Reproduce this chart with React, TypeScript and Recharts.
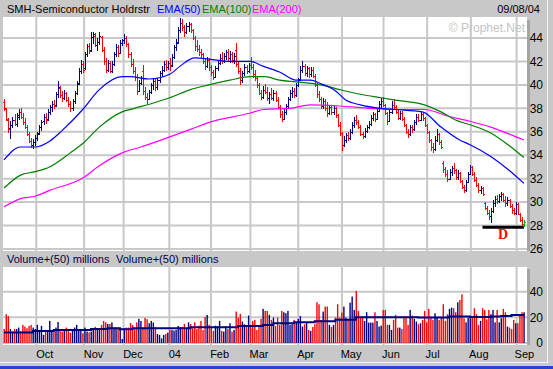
import React from 'react';
import { ComposedChart, Bar, Line, XAxis, YAxis, CartesianGrid, ReferenceLine } from 'recharts';

// daily bars [open, high, low, close], one array per month
const sep03 = [
  [38.5, 38.8, 37.8, 38.0], [37.9, 38.0, 36.9, 37.1], [37.0, 37.2, 35.9, 36.2], [36.3, 36.9, 35.4, 36.6],
  [36.6, 37.3, 36.3, 37.0], [37.0, 37.5, 36.5, 36.7], [36.7, 37.6, 36.4, 37.4], [37.3, 37.9, 37.0, 37.7],
  [37.7, 38.0, 37.1, 37.3], [37.3, 37.6, 36.6, 36.8], [36.8, 37.2, 36.2, 36.4], [36.4, 36.6, 35.6, 35.8],
  [35.8, 36.0, 35.0, 35.2], [35.2, 35.5, 34.6, 34.9], [34.9, 35.4, 34.5, 35.1], [35.1, 35.7, 34.8, 35.5],
];
const oct03 = [
  [35.5, 36.0, 35.2, 35.8], [35.9, 36.6, 35.7, 36.4], [36.4, 37.0, 36.1, 36.8], [36.9, 37.5, 36.6, 37.3],
  [37.3, 37.6, 36.7, 37.0], [37.1, 37.9, 36.9, 37.7], [37.7, 38.3, 37.4, 38.1], [38.1, 38.6, 37.7, 38.4],
  [38.4, 38.7, 37.9, 38.2], [38.3, 39.4, 38.1, 39.2], [39.2, 40.3, 38.9, 39.8], [39.7, 39.9, 38.9, 39.1],
  [39.1, 39.5, 38.5, 38.9], [38.9, 39.6, 38.7, 39.3], [39.3, 39.4, 38.5, 38.7], [38.7, 39.0, 38.1, 38.4],
  [38.4, 38.6, 37.7, 38.0], [38.0, 38.8, 37.8, 38.6], [38.6, 39.5, 38.4, 39.3], [39.3, 40.3, 39.1, 40.1],
  [40.2, 41.4, 40.0, 41.2], [41.2, 42.1, 40.9, 41.8], [41.8, 42.0, 41.0, 41.3],
];
const nov03 = [
  [41.4, 42.8, 41.3, 42.6], [42.6, 43.5, 42.4, 43.3], [43.3, 43.6, 42.6, 42.9], [43.0, 44.5, 42.8, 44.1],
  [44.1, 44.5, 43.5, 44.3], [44.2, 44.4, 43.2, 43.4], [43.4, 44.0, 42.9, 43.7], [43.7, 44.5, 43.4, 44.2],
  [44.1, 44.2, 42.8, 43.0], [43.0, 43.2, 41.7, 42.0], [42.0, 42.3, 41.0, 41.3], [41.3, 42.1, 41.1, 41.9],
  [41.9, 42.0, 41.0, 41.2], [41.2, 42.0, 41.0, 41.8], [41.8, 42.8, 41.6, 42.6], [42.6, 43.5, 42.4, 43.2],
  [43.2, 43.4, 42.4, 42.7], [42.7, 43.8, 42.6, 43.6], [43.6, 43.9, 43.3, 43.8],
];
const dec03 = [
  [43.8, 44.3, 43.5, 44.0], [44.0, 44.2, 43.2, 43.5], [43.5, 43.6, 42.3, 42.6], [42.6, 42.8, 41.5, 41.8],
  [41.8, 42.2, 40.9, 41.2], [41.2, 41.5, 40.3, 40.7], [40.7, 40.9, 39.1, 39.5], [39.5, 40.4, 39.4, 40.2],
  [40.2, 40.8, 40.0, 40.6], [41.2, 41.7, 39.1, 39.5], [39.5, 39.8, 38.7, 39.0], [39.0, 39.3, 38.4, 38.8],
  [38.8, 39.6, 38.7, 39.4], [39.4, 40.2, 39.2, 40.0], [40.0, 40.6, 39.6, 40.3], [40.3, 40.5, 39.5, 39.8],
  [39.8, 40.6, 39.6, 40.4], [40.4, 41.2, 40.2, 41.0], [41.0, 41.6, 40.7, 41.3], [41.3, 42.0, 41.1, 41.8],
  [41.8, 42.1, 41.2, 41.5], [41.5, 42.0, 41.3, 41.9],
];
const jan04 = [
  [41.9, 42.3, 41.2, 41.6], [41.7, 42.6, 41.5, 42.4], [42.4, 43.4, 42.2, 43.2], [43.2, 43.9, 42.9, 43.6],
  [43.7, 44.9, 43.5, 44.7], [44.7, 45.7, 44.4, 45.3], [45.3, 45.6, 44.6, 44.9], [44.9, 45.1, 44.1, 44.5],
  [44.5, 45.3, 44.3, 45.0], [45.0, 45.4, 44.5, 45.2], [45.2, 45.3, 44.4, 44.7], [44.7, 44.8, 43.8, 44.0],
  [44.0, 44.2, 42.9, 43.3], [43.3, 43.8, 42.8, 43.1], [43.1, 43.4, 42.5, 42.8], [42.8, 43.1, 42.2, 42.6],
  [42.6, 42.7, 41.8, 42.0], [42.0, 42.3, 41.3, 41.6], [41.6, 42.4, 41.4, 42.1], [42.1, 42.3, 41.2, 41.5],
];
const feb04 = [
  [41.5, 41.7, 40.8, 41.1], [41.1, 41.3, 40.4, 40.7], [40.7, 41.6, 40.6, 41.4], [41.4, 42.1, 41.2, 41.9],
  [41.9, 42.6, 41.7, 42.3], [42.3, 42.8, 41.8, 42.0], [42.0, 42.7, 41.9, 42.5], [42.5, 43.0, 42.1, 42.8],
  [42.8, 43.1, 42.0, 42.3], [42.3, 42.9, 41.9, 42.6], [42.6, 42.8, 41.9, 42.1], [42.1, 42.7, 41.8, 42.5],
  [43.0, 43.6, 41.5, 41.8], [41.8, 42.0, 40.9, 41.2], [41.2, 41.4, 40.0, 40.4], [40.4, 41.2, 40.2, 41.0],
  [41.0, 41.8, 40.8, 41.5], [41.5, 41.7, 40.9, 41.2], [41.2, 41.9, 41.0, 41.7],
];
const mar04 = [
  [41.7, 42.4, 41.3, 41.5], [41.5, 41.8, 40.6, 40.9], [40.9, 41.3, 40.3, 40.6], [40.6, 40.8, 39.7, 40.0],
  [40.0, 40.2, 39.1, 39.3], [39.3, 39.6, 38.7, 39.0], [39.0, 39.9, 38.8, 39.6], [39.6, 40.1, 39.2, 39.4],
  [39.4, 39.8, 38.6, 38.9], [38.9, 39.4, 38.4, 39.2], [39.2, 39.7, 38.7, 38.9], [38.9, 39.6, 38.6, 39.3],
  [39.3, 39.5, 38.5, 38.7], [38.7, 39.0, 37.9, 38.1], [38.1, 38.3, 37.2, 37.5], [37.5, 37.8, 36.8, 37.1],
  [37.1, 37.9, 37.0, 37.7], [37.7, 38.4, 37.4, 38.2], [38.2, 39.0, 38.0, 38.8], [38.8, 39.6, 38.6, 39.3],
  [39.3, 39.8, 38.9, 39.5], [39.5, 39.7, 38.9, 39.1], [39.1, 40.2, 39.0, 40.0],
];
const apr04 = [
  [40.0, 40.6, 39.8, 40.4], [40.5, 41.6, 40.3, 41.3], [41.3, 42.0, 41.0, 41.6], [41.6, 41.8, 40.8, 41.0],
  [41.0, 41.6, 40.7, 41.4], [41.4, 41.5, 40.6, 40.9], [40.9, 41.5, 40.7, 41.3], [41.3, 41.5, 40.6, 40.8],
  [40.8, 40.9, 39.8, 40.0], [40.0, 40.2, 38.9, 39.2], [39.2, 39.5, 38.5, 38.8], [38.8, 39.0, 37.9, 38.2],
  [38.2, 38.9, 37.9, 38.6], [38.6, 38.8, 37.8, 38.0], [38.0, 38.5, 37.3, 37.6], [37.6, 38.3, 37.4, 38.1],
  [38.1, 38.3, 37.4, 37.7], [37.7, 38.2, 37.4, 38.0], [38.0, 38.1, 37.2, 37.4], [37.4, 37.5, 36.4, 36.6],
  [36.6, 36.8, 35.6, 35.9],
];
const may04 = [
  [35.9, 36.0, 34.4, 34.9], [34.9, 35.6, 34.7, 35.3], [35.3, 35.9, 35.0, 35.7], [35.7, 36.0, 35.2, 35.5],
  [35.5, 36.2, 35.3, 36.0], [36.0, 36.8, 35.8, 36.6], [36.6, 37.3, 36.3, 37.0], [37.0, 37.4, 36.6, 36.8],
  [36.8, 37.0, 36.2, 36.4], [36.4, 36.6, 35.6, 35.8], [35.8, 36.0, 35.4, 35.6], [35.6, 36.3, 35.5, 36.1],
  [36.1, 36.6, 35.9, 36.4], [36.4, 36.9, 36.2, 36.7], [36.7, 37.4, 36.5, 37.2], [37.2, 37.7, 36.9, 37.5],
  [37.5, 37.6, 36.8, 37.1], [37.1, 38.0, 37.0, 37.8], [37.8, 38.6, 37.7, 38.4], [38.4, 38.9, 38.0, 38.6],
];
const jun04 = [
  [38.6, 39.0, 38.1, 38.3], [38.3, 38.4, 37.4, 37.6], [37.6, 37.7, 36.6, 36.9], [36.9, 37.9, 36.8, 37.7],
  [37.7, 38.6, 37.5, 38.3], [38.3, 38.8, 37.9, 38.1], [38.1, 38.3, 37.5, 37.7], [37.7, 37.9, 37.0, 37.2],
  [37.2, 37.8, 37.0, 37.6], [37.6, 37.8, 36.9, 37.1], [37.1, 37.3, 36.4, 36.6], [36.6, 36.7, 35.8, 36.0],
  [36.0, 36.2, 35.5, 35.8], [35.8, 36.6, 35.6, 36.4], [36.4, 36.6, 35.9, 36.2], [36.2, 37.0, 36.1, 36.8],
  [36.8, 37.5, 36.6, 37.3], [37.3, 37.5, 36.8, 37.0], [37.0, 37.7, 36.9, 37.5], [37.5, 37.6, 36.9, 37.2],
  [37.2, 37.3, 36.4, 36.6],
];
const jul04 = [
  [36.6, 36.7, 35.8, 36.0], [36.0, 36.1, 35.0, 35.3], [35.3, 35.4, 34.4, 34.7], [34.7, 35.0, 34.2, 34.5],
  [34.5, 35.6, 34.4, 35.3], [35.3, 36.2, 35.1, 35.8], [35.8, 35.9, 34.9, 35.1], [35.1, 35.3, 34.5, 34.7],
  [33.3, 33.5, 32.5, 32.8], [32.8, 33.0, 32.1, 32.4], [32.4, 32.7, 31.7, 32.0], [32.0, 32.8, 31.9, 32.6],
  [32.6, 33.1, 32.2, 32.9], [32.9, 33.3, 32.4, 32.7], [32.7, 32.8, 31.9, 32.1], [32.1, 32.7, 31.9, 32.5],
  [32.5, 32.6, 31.6, 31.8], [31.8, 31.9, 31.1, 31.3], [31.3, 31.5, 30.8, 31.0], [31.0, 31.9, 30.9, 31.7],
  [31.7, 32.6, 31.6, 32.4],
];
const aug04 = [
  [32.4, 33.2, 32.3, 33.0], [33.0, 33.1, 32.2, 32.4], [32.4, 32.6, 31.7, 31.9], [31.9, 32.1, 31.3, 31.5],
  [31.5, 31.6, 30.8, 31.0], [31.0, 31.4, 30.7, 31.2], [31.2, 31.3, 30.5, 30.7], [29.9, 30.0, 29.3, 29.5],
  [29.5, 29.7, 28.9, 29.1], [29.1, 29.3, 28.5, 28.8], [28.8, 29.5, 28.2, 29.2], [29.2, 30.2, 29.1, 29.9],
  [29.9, 30.5, 29.6, 30.3], [30.3, 30.6, 29.8, 30.1], [30.1, 30.7, 29.9, 30.5], [30.5, 30.9, 30.1, 30.7],
  [30.7, 30.8, 30.0, 30.2], [30.2, 30.5, 29.6, 29.9], [29.9, 30.4, 29.7, 30.2], [30.2, 30.3, 29.5, 29.7],
  [29.7, 29.8, 29.0, 29.3], [29.3, 29.5, 28.9, 29.1],
];
const sep04 = [
  [29.1, 30.0, 28.9, 29.8], [29.8, 29.9, 28.9, 29.0], [29.0, 29.1, 28.3, 28.5], [28.5, 28.7, 27.9, 28.1],
  [28.1, 28.5, 27.9, 28.3],
];

// volume in millions, same months
const volSep03 = [10.9, 22.4, 21.1, 10.9, 8.9, 10.9, 10.9, 12, 8.9, 14.1, 12.8, 11.5, 13.3, 14.1, 12, 10.9];
const volOct03 = [14.1, 10.2, 13.3, 6.3, 10.2, 9.4, 17.2, 8.9, 8.9, 12, 16.4, 10.2, 8.9, 10.9, 12, 10.9, 8.1, 10.2, 12, 14.1, 9.4, 10.9, 7.6];
const volNov03 = [12, 8.9, 8.3, 8.9, 11.5, 12.5, 10.9, 10.9, 14.1, 17.2, 16.1, 14.8, 14.8, 16.1, 12, 12, 12, 10.9, 3.1];
const volDec03 = [11.5, 12, 12, 15.6, 14.1, 10.9, 16.1, 18.8, 17.2, 12, 19.5, 18.5, 15.4, 17.2, 15.9, 12.5, 7, 6.3, 3.6, 6.3, 7, 8.1];
const volJan04 = [10.2, 10.2, 9.6, 10.2, 13.3, 12.2, 12.5, 14.8, 10.9, 16.1, 14.8, 11.5, 16.1, 10.9, 13.5, 17.2, 10.2, 20.3, 21.9, 14.1];
const volFeb04 = [12.5, 9.4, 13.5, 12.8, 17.2, 9.4, 8.9, 13, 10.9, 15.4, 8.9, 10.2, 24.5, 19.8, 22.7, 16.7, 14.6, 12.8, 21.4];
const volMar04 = [12.8, 17.2, 18, 10.2, 12.8, 18.8, 26.6, 25, 25, 21.9, 18, 19.8, 13.3, 19.8, 14.1, 25, 24, 23.2, 25, 14.1, 14.6, 18, 16.1];
const volApr04 = [18.8, 21.1, 12.8, 14.6, 16.1, 10.2, 9.4, 12.5, 14.6, 31.8, 30.2, 18, 24.5, 28.4, 28.4, 14.1, 12.5, 14.1, 19.8, 30.2, 19.8];
const volMay04 = [23.7, 28.4, 19.8, 18, 31.5, 36.2, 25.8, 40.6, 25, 19.8, 20.6, 17.2, 24, 15.9, 15.9, 15.9, 24, 17.2, 12.8, 13.5];
const volJun04 = [25.8, 25.8, 14.1, 14.1, 10.2, 18, 21.9, 12, 12, 10.9, 20, 20.6, 14.1, 25.8, 21.4, 18.8, 16.7, 14.6, 15.4, 18, 25];
const volJul04 = [16.1, 26.6, 20.6, 18, 23.2, 19.8, 18, 19.8, 30.2, 17.2, 22.4, 26.6, 27.6, 27.1, 24, 31.8, 33.6, 38, 19.3, 16.1, 19.8];
const volAug04 = [19.3, 20.6, 27.1, 22.4, 14.1, 17.2, 27.1, 25.8, 18.5, 25.8, 22.4, 25.8, 16.1, 25.8, 16.1, 19.3, 26.6, 24, 12.8, 12, 10.9, 18];
const volSep04 = [15.4, 15.4, 22.4, 24, 24];

// moving averages: [bar index, value]
const ema50 = [
  [0, 33.6], [8, 34.7], [15, 34.7], [22, 35.2], [28, 36.1], [38, 37.9], [46, 39.6], [57, 40.7], [61, 40.7],
  [70, 40.5], [80, 40.9], [85, 41.6], [92, 42.3], [99, 42.2], [109, 42.0], [119, 42.0], [125, 41.6],
  [133, 41.1], [141, 40.4], [148, 40.4], [153, 40.1], [160, 39.5], [165, 38.7], [172, 38.3], [182, 38.0],
  [189, 37.9], [202, 37.7], [211, 36.4], [220, 35.3], [225, 34.9], [235, 33.9], [244, 32.7], [251, 31.6],
];
const ema100 = [
  [0, 31.2], [8, 32.3], [15, 32.6], [22, 33.0], [32, 34.2], [38, 35.0], [46, 36.4], [57, 37.7], [63, 38.0],
  [73, 38.5], [80, 38.9], [90, 39.6], [99, 40.0], [109, 40.4], [119, 40.7], [126, 40.7], [133, 40.4],
  [141, 40.25], [153, 40.0], [162, 39.6], [172, 39.2], [182, 38.9], [189, 38.7], [203, 38.3], [211, 37.7],
  [218, 37.0], [225, 36.6], [235, 35.9], [244, 34.8], [251, 33.8],
];
const ema200 = [
  [0, 29.6], [8, 30.3], [15, 30.5], [22, 31.0], [38, 32.05], [46, 33.1], [57, 34.2], [66, 34.7], [79, 35.5],
  [90, 36.2], [99, 36.8], [119, 37.6], [125, 37.9], [138, 38.0], [148, 38.3], [162, 38.2], [177, 38.0],
  [189, 37.9], [203, 37.9], [215, 37.3], [225, 36.9], [235, 36.4], [244, 35.8], [251, 35.3],
];
const volAvg50 = [
  [0, 8.1], [14, 9.4], [24, 10.2], [42, 10.9], [50, 11.5], [56, 10.7], [62, 11.5], [80, 11.5], [90, 12.2],
  [110, 12.2], [113, 13.3], [120, 13.3], [125, 14.1], [130, 15.4], [140, 16.1], [150, 16.9], [160, 18.2],
  [170, 20.0], [180, 20.0], [200, 19.8], [210, 19.8], [215, 20.6], [225, 20.2], [235, 20.6], [240, 21.1],
  [245, 21.9], [251, 21.4],
];

const monthLabels = ['Oct', 'Nov', 'Dec', '04', 'Feb', 'Mar', 'Apr', 'May', 'Jun', 'Jul', 'Aug', 'Sep'];
const priceTicks = [26, 28, 30, 32, 34, 36, 38, 40, 42, 44];
const volumeTicks = [0, 20, 40];
const supportLevel = 27.85;
const supportFrom = 231;

const priceMonths = [sep03, oct03, nov03, dec03, jan04, feb04, mar04, apr04, may04, jun04, jul04, aug04, sep04];
const volumeMonths = [volSep03, volOct03, volNov03, volDec03, volJan04, volFeb04, volMar04, volApr04, volMay04, volJun04, volJul04, volAug04, volSep04];
const bars = priceMonths.flat();
const volumes = volumeMonths.flat();

const monthStarts: number[] = [];
let counted = 0;
priceMonths.forEach((m, k) => {
  if (k > 0) monthStarts.push(counted);
  counted += m.length;
});

const UP = '#000080';
const DOWN = '#ff0000';
const LAST = '#00b000';

const data: any[] = bars.map(([o, h, l, c], i) => {
  const prev = i > 0 ? bars[i - 1][3] : o;
  const down = c < prev;
  return {
    i, o, h, l, c,
    range: [l, h],
    v: volumes[i],
    color: i === bars.length - 1 ? LAST : down ? DOWN : UP,
    vcolor: down ? DOWN : UP,
  };
});
data.push({ i: bars.length }); // empty slot at the right edge
const put = (pts: number[][], key: string) => pts.forEach(([i, v]) => { data[i][key] = v; });
put(ema50, 'e50');
put(ema100, 'e100');
put(ema200, 'e200');
put(volAvg50, 'va');

const W = 553;
const H = 369;
const LEFT = 3;
const AXIS_W = 26;
const PRICE_TOP = 17;
const PRICE_H = 262;
const PRICE_BOTTOM = 11; // plot ends at y 251, room below for the 26 label
const VOL_TOP = 267;
const XAXIS_H = 24;
const PRICE_DOMAIN = [25.83, 45.79];
const VOL_DOMAIN = [-1.6, 59.3];
const GRID = '#c8c8c8';
const FONT = '"Liberation Sans", Arial, sans-serif';

const layer: React.CSSProperties = { position: 'absolute', left: 0, top: 0 };

function OhlcShape(props: any) {
  const { x, y, width, height, payload } = props;
  if (!payload || payload.h == null) return null;
  const top = Math.min(y, y + height);
  const span = Math.max(Math.abs(height), 1);
  const per = payload.h === payload.l ? 0 : span / (payload.h - payload.l);
  const cx = Math.round(x + width / 2);
  const yo = Math.round(top + (payload.h - payload.o) * per);
  const yc = Math.round(top + (payload.h - payload.c) * per);
  return (
    <g fill={payload.color} shapeRendering="crispEdges">
      <rect x={cx} y={top} width={1} height={span} />
      <rect x={cx - 1} y={yo} width={1} height={1} />
      <rect x={cx + 1} y={yc} width={1} height={1} />
    </g>
  );
}

function VolShape(props: any) {
  const { x, y, width, height, payload } = props;
  if (!payload || payload.v == null) return null;
  return <rect x={x + width / 2 - 0.7} y={y} width={1.4} height={Math.max(height, 0)} fill={payload.vcolor} />;
}

const rightTick = ({ x, y, payload }: any) => (
  <text x={x + 8} y={y} dy="0.35em" textAnchor="end" fontSize={12} fontFamily={FONT} fill="#000">
    {payload.value}
  </text>
);

const monthTick = ({ x, y, payload }: any) => (
  <text x={x - 1} y={y + 5} textAnchor="start" fontSize={11} fontFamily={FONT} fill="#000">
    {monthLabels[monthStarts.indexOf(payload.value)]}
  </text>
);

function GridLayer({ height, top, bottom, domain, yTicks }: any) {
  return (
    <div style={layer}>
      <ComposedChart width={W} height={height} data={data} margin={{ top, right: AXIS_W, bottom, left: LEFT }}>
        <XAxis dataKey="i" hide />
        <YAxis hide type="number" domain={domain} allowDataOverflow />
        <CartesianGrid horizontal={false} vertical={false} fill="#ffffff" stroke="none" />
        {yTicks.map((t: number) => (
          <ReferenceLine key={'h' + t} y={t} stroke={GRID} strokeWidth={2} />
        ))}
        {monthStarts.map((m) => (
          <ReferenceLine key={'v' + m} x={m} position="start" stroke={GRID} strokeWidth={2} />
        ))}
      </ComposedChart>
    </div>
  );
}

export default function App() {
  return (
    <div style={{ position: 'fixed', left: 0, top: 0, width: W, height: H, background: '#c8c8c8', overflow: 'hidden' }}>
      <GridLayer height={PRICE_H} top={PRICE_TOP} bottom={PRICE_BOTTOM} domain={PRICE_DOMAIN} yTicks={priceTicks} />
      <GridLayer height={H} top={VOL_TOP} bottom={XAXIS_H} domain={VOL_DOMAIN} yTicks={volumeTicks} />

      <svg width={W} height={H} style={layer}>
        <rect x={527} y={20} width={3} height={231} fill="#a4a4a4" />
        <rect x={527} y={269} width={3} height={76} fill="#a4a4a4" />
        <rect x={0} y={362} width={548} height={1} fill="#f4f4f4" />
        <rect x={547} y={0} width={1} height={363} fill="#f4f4f4" />
        <rect x={0} y={366} width={W} height={3} fill="#2048c8" />
        <g fontFamily={FONT} fontSize={11}>
          <text x={7} y={13} fill="#000">SMH-Semiconductor Holdrstr</text>
          <text x={157} y={13} fill="#0000ff">EMA(50)</text>
          <text x={202} y={13} fill="#008000">EMA(100)</text>
          <text x={252} y={13} fill="#ff00ff">EMA(200)</text>
          <text x={540} y={13} fill="#000" textAnchor="end">09/08/04</text>
          <text x={7} y={263} fill="#000050">Volume+(50) millions</text>
          <text x={116} y={263} fill="#000050">Volume+(50) millions</text>
        </g>
        <text x={525} y={32} fontFamily={FONT} fontSize={12} fill="#c4c4c4" textAnchor="end">© Prophet.Net</text>
      </svg>

      <div style={layer}>
        <ComposedChart width={W} height={PRICE_H} data={data} margin={{ top: PRICE_TOP, right: 0, bottom: PRICE_BOTTOM, left: LEFT }}>
          <XAxis dataKey="i" hide />
          <YAxis
            orientation="right"
            width={AXIS_W}
            type="number"
            domain={PRICE_DOMAIN}
            allowDataOverflow
            ticks={priceTicks}
            interval={0}
            axisLine={false}
            tickLine={false}
            tick={rightTick}
          />
          <Bar dataKey="range" shape={<OhlcShape />} isAnimationActive={false} />
          <Line dataKey="e200" type="monotone" stroke="#ff00ff" strokeWidth={1.2} dot={false} activeDot={false} connectNulls isAnimationActive={false} />
          <Line dataKey="e100" type="monotone" stroke="#008000" strokeWidth={1.2} dot={false} activeDot={false} connectNulls isAnimationActive={false} />
          <Line dataKey="e50" type="monotone" stroke="#0000ff" strokeWidth={1.2} dot={false} activeDot={false} connectNulls isAnimationActive={false} />
          <ReferenceLine
            segment={[{ x: supportFrom, y: supportLevel }, { x: bars.length - 1, y: supportLevel }]}
            stroke="#000"
            strokeWidth={3}
            label={{ value: 'D', position: 'bottom', offset: 2, fill: '#ff0000', fontSize: 14, fontWeight: 'bold', fontFamily: '"Liberation Serif", serif' }}
          />
        </ComposedChart>
      </div>

      <div style={layer}>
        <ComposedChart width={W} height={H} data={data} margin={{ top: VOL_TOP, right: 0, bottom: 0, left: LEFT }}>
          <XAxis dataKey="i" height={XAXIS_H} ticks={monthStarts} interval={0} axisLine={false} tickLine={false} tick={monthTick} />
          <YAxis
            orientation="right"
            width={AXIS_W}
            type="number"
            domain={VOL_DOMAIN}
            allowDataOverflow
            ticks={volumeTicks}
            interval={0}
            axisLine={false}
            tickLine={false}
            tick={rightTick}
          />
          <Bar dataKey="v" shape={<VolShape />} isAnimationActive={false} />
          <Line dataKey="va" type="stepAfter" stroke="#000080" strokeWidth={2} dot={false} activeDot={false} connectNulls isAnimationActive={false} />
        </ComposedChart>
      </div>
    </div>
  );
}
